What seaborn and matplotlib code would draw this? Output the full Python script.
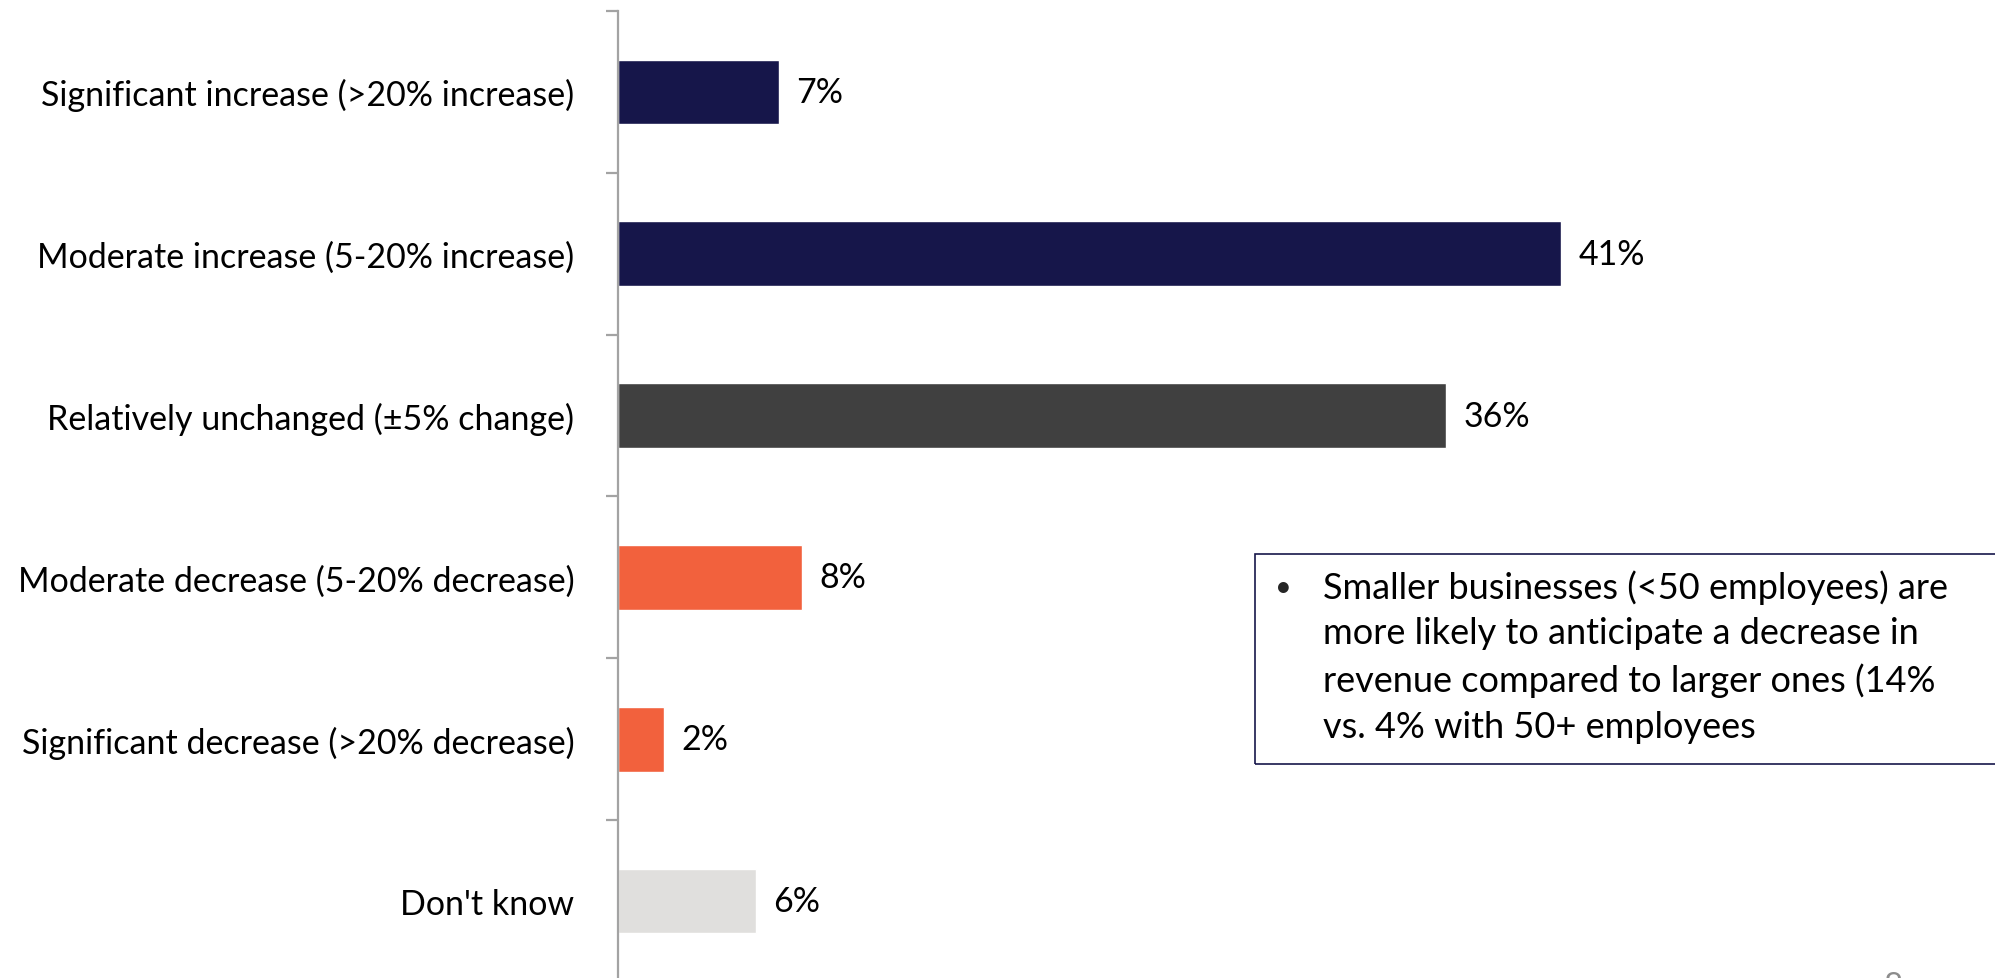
import matplotlib
matplotlib.use("Agg")
import matplotlib.pyplot as plt
from matplotlib.patches import Rectangle
import seaborn as sns
import pandas as pd

# Survey responses: expected change in revenue
categories = [
    "Significant increase (>20% increase)",
    "Moderate increase (5-20% increase)",
    "Relatively unchanged (\u00b15% change)",
    "Moderate decrease (5-20% decrease)",
    "Significant decrease (>20% decrease)",
    "Don't know",
]
shares = [7, 41, 36, 8, 2, 6]
bar_colors = ["#16164A", "#16164A", "#404040", "#F2613D", "#F2613D", "#E0DFDD"]

note_lines = [
    "Smaller businesses (<50 employees) are",
    "more likely to anticipate a decrease in",
    "revenue compared to larger ones (14%",
    "vs. 4% with 50+ employees",
]
page_number = "8"

sns.set_style("white")
plt.rcParams["font.family"] = ["Lato", "DejaVu Sans"]

W, H = 1995, 979
fig = plt.figure(figsize=(W / 100, H / 100), dpi=100)
fig.patch.set_facecolor("white")

ax_left, ax_top, ax_bottom = 617.5, 12, 983
px_per_pct = 23.0
ax_w = W + 5 - ax_left
ax = fig.add_axes([ax_left / W, 1 - ax_bottom / H, ax_w / W, (ax_bottom - ax_top) / H])

df = pd.DataFrame({"category": categories, "share": shares})
sns.barplot(data=df, y="category", x="share", hue="category", palette=bar_colors,
            width=0.40, legend=False, orient="h", ax=ax, saturation=1)

ax.set_xlim(0, ax_w / px_per_pct)
ax.set_ylim(len(categories) - 0.5, -0.5)
ax.set_xlabel("")
ax.set_ylabel("")
ax.set_xticks([])

for side in ("top", "right", "bottom"):
    ax.spines[side].set_visible(False)
axis_grey = "#A3A3A3"
ax.spines["left"].set_color(axis_grey)
ax.spines["left"].set_linewidth(1.6)

ax.set_yticks(range(len(categories)))
ax.set_yticklabels(categories, fontsize=24.5, color="black")
ax.set_yticks([i - 0.5 for i in range(len(categories) + 1)], minor=True)
ax.tick_params(axis="y", which="major", left=True, length=0, pad=31)
ax.tick_params(axis="y", which="minor", left=True, length=8.5, width=1.6, color=axis_grey)

for i, v in enumerate(shares):
    ax.annotate(f"{v}%", xy=(v, i), xytext=(13, 0), textcoords="offset points",
                va="center", ha="left", fontsize=24.5, color="black")

# Call-out box with the key finding
box_l, box_t, box_b = 1254.5, 555, 765
fig.add_artist(Rectangle((box_l / W, 1 - box_b / H), (W + 20 - box_l) / W, (box_b - box_t) / H,
                         transform=fig.transFigure, fill=False, edgecolor="#16164A",
                         linewidth=1.2, clip_on=False))
line_y = [588, 634, 681, 728]
fig.text(1275 / W, 1 - line_y[0] / H, "\u2022", fontsize=21, va="center", ha="left")
for y, line in zip(line_y, note_lines):
    fig.text(1323 / W, 1 - y / H, line, fontsize=26, va="center", ha="left", color="black")

fig.text(1893 / W, 1 - 972 / H, page_number, fontsize=24, va="top", ha="center", color="#8C8C8C")

fig.savefig("out.png", dpi=100, facecolor="white")
